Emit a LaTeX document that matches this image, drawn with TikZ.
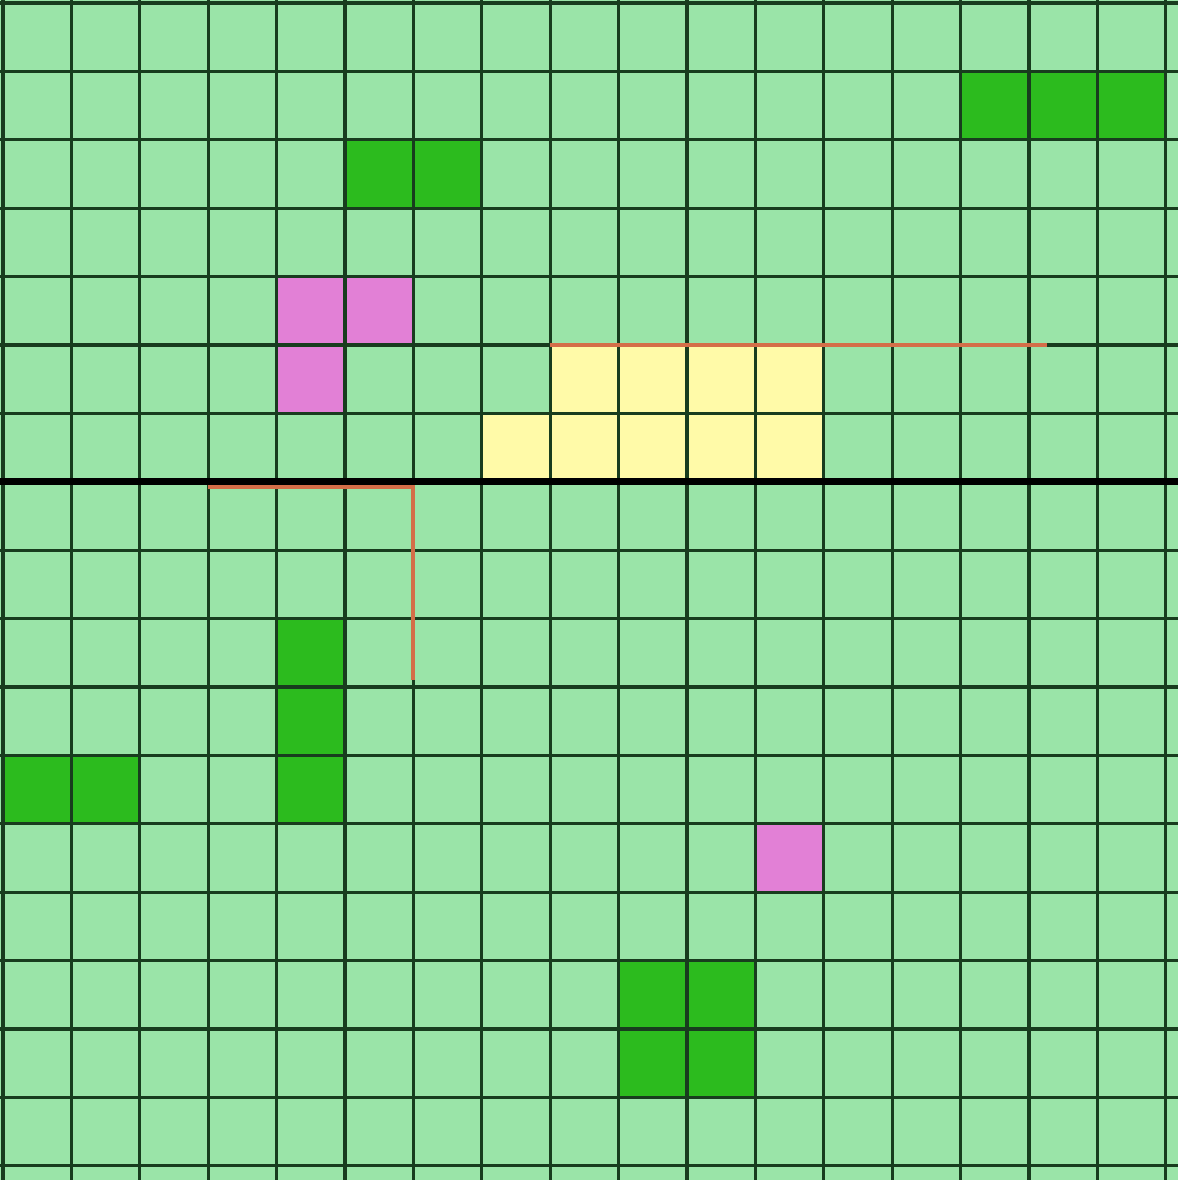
\documentclass[tikz,border=0pt]{standalone}

\definecolor{fieldgreen}{RGB}{154,228,168}
\definecolor{cropgreen}{RGB}{44,187,30}
\definecolor{plotpink}{RGB}{226,128,214}
\definecolor{plotyellow}{RGB}{255,250,168}
\definecolor{gridline}{RGB}{24,60,30}
\definecolor{fenceline}{RGB}{212,110,72}

\newcommand*{\xmin}{-0.044}
\newcommand*{\xmax}{17.178}
\newcommand*{\ymin}{-0.044}
\newcommand*{\ymax}{17.208}

\begin{document}
\begin{tikzpicture}
[
	x=1cm,y=-1cm,
	tile/.style={draw=none},
	gridlines/.style={gridline,line width=1.4pt},
	fence/.style={fenceline,line width=1.6pt},
	divider/.style={black,line width=2.9pt}
]

	% field
	\useasboundingbox (\xmin,\ymin) rectangle (\xmax,\ymax);
	\fill[fieldgreen] (\xmin,\ymin) rectangle (\xmax,\ymax);

	% coloured cells (column, row)
	\foreach \c/\r in {14/1,15/1,16/1,5/2,6/2,4/9,4/10,4/11,0/11,1/11,9/14,10/14,9/15,10/15}
		\fill[tile,cropgreen] (\c,\r) rectangle ++(1,1);
	\foreach \c/\r in {4/4,5/4,4/5,11/12}
		\fill[tile,plotpink] (\c,\r) rectangle ++(1,1);
	\foreach \c/\r in {8/5,9/5,10/5,11/5,7/6,8/6,9/6,10/6,11/6}
		\fill[tile,plotyellow] (\c,\r) rectangle ++(1,1);

	% grid
	\draw[gridlines] (-0.2,-0.2) grid (17.3,17.3);
	\draw[divider] (\xmin,7) -- (\xmax,7);

	% boundaries
	\draw[fence] (8,5) -- (15.26,5);
	\draw[fence] (3,7.07) -- (6,7.07) -- (6,9.9);

\end{tikzpicture}
\end{document}
